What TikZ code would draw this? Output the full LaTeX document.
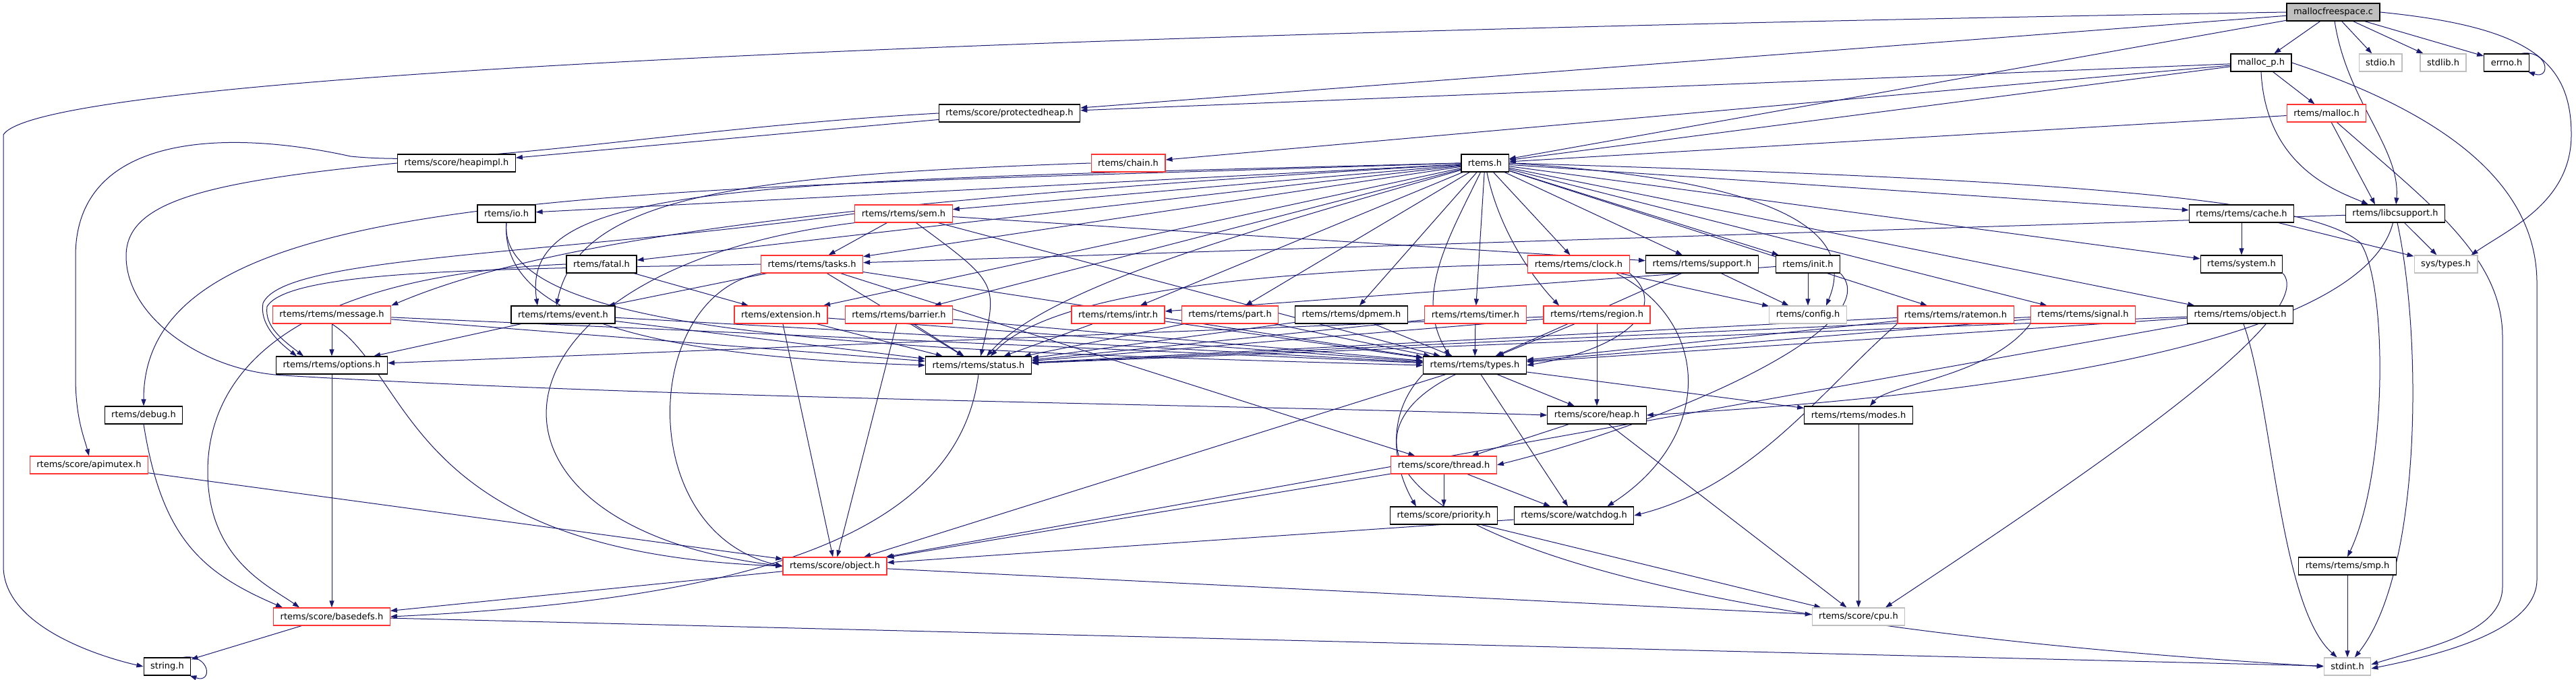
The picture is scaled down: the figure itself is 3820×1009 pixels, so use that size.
\documentclass[tikz,border=0pt]{standalone}
\usepackage{fontspec}
\setmainfont{DejaVu Sans}
\usetikzlibrary{arrows.meta}
\definecolor{edgeblue}{RGB}{25,25,112}
\definecolor{cutred}{RGB}{255,50,50}
\definecolor{extgrey}{RGB}{191,191,191}
\pgfdeclarelayer{edges}
\pgfsetlayers{edges,main}
\begin{document}
\begin{tikzpicture}[x=1pt, y=-1pt, font=\fontsize{13}{15}\selectfont,
    file/.style = {draw=black, fill=white, line width=1.2pt, minimum height=26pt, inner xsep=10pt, inner ysep=2pt},
    cutfile/.style = {file, draw=cutred},
    extfile/.style = {file, draw=extgrey},
    srcfile/.style = {file, fill=extgrey},
    dep/.style = {-{Triangle[length=10pt,width=7pt]}, draw=edgeblue, line width=1pt}]
    \useasboundingbox (0,0) rectangle (3820,1009);
    % files
    \node[srcfile] (src) at (3460,18) {mallocfreespace.c};
    \node[file] (mallocp) at (3353,93) {malloc\_p.h};
    \node[extfile] (stdio) at (3530,93) {stdio.h};
    \node[extfile] (stdlib) at (3623,93) {stdlib.h};
    \node[file] (errno) at (3717,93) {errno.h};
    \node[file] (pheap) at (1497,168) {rtems/score/protectedheap.h};
    \node[cutfile] (mallocr) at (3450,168) {rtems/malloc.h};
    \node[file] (heapimpl) at (677,242) {rtems/score/heapimpl.h};
    \node[cutfile] (chain) at (1673,242) {rtems/chain.h};
    \node[file] (rtemsh) at (2202,242) {rtems.h};
    \node[file] (io) at (751,317) {rtems/io.h};
    \node[cutfile] (sem) at (1340,317) {rtems/rtems/sem.h};
    \node[file] (cache) at (3324,317) {rtems/rtems/cache.h};
    \node[file] (libc) at (3552,317) {rtems/libcsupport.h};
    \node[file] (fatal) at (892,392) {rtems/fatal.h};
    \node[cutfile] (tasks) at (1204,392) {rtems/rtems/tasks.h};
    \node[cutfile] (clock) at (2341,392) {rtems/rtems/clock.h};
    \node[file] (support) at (2524,392) {rtems/rtems/support.h};
    \node[file] (init) at (2681,392) {rtems/init.h};
    \node[file] (system) at (3324,392) {rtems/system.h};
    \node[extfile] (systypes) at (3627,392) {sys/types.h};
    \node[cutfile] (message) at (492,467) {rtems/rtems/message.h};
    \node[file] (event) at (835,467) {rtems/rtems/event.h};
    \node[cutfile] (extension) at (1158,467) {rtems/extension.h};
    \node[cutfile] (barrier) at (1333,467) {rtems/rtems/barrier.h};
    \node[cutfile] (intr) at (1658,467) {rtems/rtems/intr.h};
    \node[cutfile] (part) at (1824,467) {rtems/rtems/part.h};
    \node[file] (dpmem) at (2004,467) {rtems/rtems/dpmem.h};
    \node[cutfile] (timer) at (2188,467) {rtems/rtems/timer.h};
    \node[cutfile] (region) at (2368,467) {rtems/rtems/region.h};
    \node[extfile] (config) at (2681,467) {rtems/config.h};
    \node[cutfile] (ratemon) at (2900,467) {rtems/rtems/ratemon.h};
    \node[cutfile] (signal) at (3089,467) {rtems/rtems/signal.h};
    \node[file] (robject) at (3322,467) {rtems/rtems/object.h};
    \node[file] (options) at (492,542) {rtems/rtems/options.h};
    \node[file] (status) at (1451,542) {rtems/rtems/status.h};
    \node[file] (types) at (2187,542) {rtems/rtems/types.h};
    \node[file] (debug) at (213,616) {rtems/debug.h};
    \node[file] (heap) at (2368,616) {rtems/score/heap.h};
    \node[file] (modes) at (2756,616) {rtems/rtems/modes.h};
    \node[cutfile] (apimutex) at (132,690) {rtems/score/apimutex.h};
    \node[cutfile] (thread) at (2141,690) {rtems/score/thread.h};
    \node[file] (priority) at (2141,765) {rtems/score/priority.h};
    \node[file] (watchdog) at (2334,765) {rtems/score/watchdog.h};
    \node[file] (smp) at (3481,840) {rtems/rtems/smp.h};
    \node[cutfile] (sobject) at (1238,840) {rtems/score/object.h};
    \node[cutfile] (basedefs) at (492,915) {rtems/score/basedefs.h};
    \node[extfile] (cpu) at (2756,915) {rtems/score/cpu.h};
    \node[file] (string) at (248,989) {string.h};
    \node[extfile] (stdint) at (3481,989) {stdint.h};
    \begin{pgfonlayer}{edges}
    % mallocfreespace.c
    \draw[dep] (src) -- (mallocp);
    \draw[dep] (src) -- (stdio);
    \draw[dep] (src) -- (stdlib);
    \draw[dep] (src) -- (errno);
    \draw[dep] (src) -- (rtemsh);
    \draw[dep] (src) -- (pheap);
    \draw[dep] (src) .. controls (3480,150) and (3560,220) .. (libc);
    \draw[dep] (src.west) .. controls (1500,50) and (60,110) .. (5,200) -- (5,840) .. controls (5,930) and (150,975) .. (string.west);
    \draw[dep] (src.east) .. controls (3750,40) and (3813,90) .. (3813,200) .. controls (3813,300) and (3720,340) .. ([xshift=-10]systypes.north east);
    \draw[dep] ([xshift=-12]errno.north east) .. controls +(40,-6) and +(35,12) .. ([xshift=-2]errno.south east);
    % malloc_p.h
    \draw[dep] (mallocp) -- (pheap);
    \draw[dep] (mallocp) -- (rtemsh);
    \draw[dep] (mallocp) -- (chain);
    \draw[dep] (mallocp) -- (mallocr);
    \draw[dep] (mallocp.south) .. controls (3360,250) and (3470,285) .. ([xshift=-40]libc.north);
    \draw[dep] (mallocp.east) .. controls (3600,160) and (3762,260) .. (3762,420) -- (3762,860) .. controls (3762,940) and (3600,975) .. ([yshift=-3]stdint.east);
    % rtems/malloc.h
    \draw[dep] (mallocr) -- (rtemsh);
    \draw[dep] (mallocr) -- ([xshift=-30]libc.north);
    \draw[dep] (mallocr) .. controls (3600,300) and (3711,380) .. (3711,500) -- (3711,870) .. controls (3711,940) and (3600,960) .. ([yshift=3]stdint.east);
    % score headers at the top
    \draw[dep] (pheap) -- (heapimpl);
    \draw[dep] (pheap.west) .. controls (1000,190) and (700,250) .. (520,232) .. controls (330,190) and (112,200) .. (112,380) -- (112,560) .. controls (112,620) and (125,650) .. (apimutex.north);
    \draw[dep] (heapimpl.west) .. controls (300,270) and (187,300) .. (187,380) .. controls (187,470) and (300,550) .. (420,557) .. controls (1000,592) and (1800,600) .. (heap.west);
    \draw[dep] (chain.west) .. controls (1100,260) and (860,290) .. ([xshift=-10]event.north);
    % rtems.h
    \draw[dep] (rtemsh) -- (io);
    \draw[dep] (rtemsh) -- (sem);
    \draw[dep] (rtemsh) -- (tasks);
    \draw[dep] (rtemsh) -- (fatal);
    \draw[dep] (rtemsh.west) .. controls (1100,270) and (770,270) .. ([xshift=-38]event.north);
    \draw[dep] (rtemsh) .. controls (1200,300) and (800,360) .. (message.north east);
    \draw[dep] (rtemsh) -- (extension);
    \draw[dep] (rtemsh) -- (barrier);
    \draw[dep] (rtemsh) -- (intr);
    \draw[dep] (rtemsh) -- (part);
    \draw[dep] (rtemsh) -- (dpmem);
    \draw[dep] (rtemsh) -- (timer);
    \draw[dep] (rtemsh) .. controls (2225,350) and (2280,420) .. ([xshift=-56]region.north);
    \draw[dep] (rtemsh) -- (clock);
    \draw[dep] (rtemsh) -- (support);
    \draw[dep] (rtemsh) -- (init);
    \draw[dep] (rtemsh.east) .. controls (2600,265) and (2760,330) .. ([xshift=27]config.north);
    \draw[dep] (rtemsh) -- (ratemon);
    \draw[dep] (rtemsh) -- (signal);
    \draw[dep] (rtemsh) -- (robject);
    \draw[dep] (rtemsh) -- (cache);
    \draw[dep] (rtemsh) -- (system);
    \draw[dep] (rtemsh) .. controls (1900,330) and (1560,420) .. (status);
    \draw[dep] (rtemsh) .. controls (2150,350) and (2095,440) .. ([xshift=-37]types.north);
    \draw[dep] (rtemsh.west) .. controls (900,285) and (213,270) .. (debug.north);
    \draw[dep] (rtemsh.east) .. controls (3000,265) and (3420,290) .. (3500,360) .. controls (3541,420) and (3541,700) .. (smp.north);
    % sem.h
    \draw[dep] (sem) -- (tasks);
    \draw[dep] (sem) -- (support);
    \draw[dep] (sem.west) .. controls (800,380) and (420,380) .. (390,450) .. controls (385,480) and (410,505) .. ([xshift=-52]options.north);
    \draw[dep] (sem) .. controls (1480,420) .. (status);
    \draw[dep] (sem) -- (types);
    \draw[dep] (sem.south west) .. controls (700,400) and (660,780) .. (sobject.west);
    % cache.h and libcsupport.h
    \draw[dep] (cache) -- (system);
    \draw[dep] (cache) -- (systypes);
    \draw[dep] (libc) -- (tasks);
    \draw[dep] (libc) .. controls (3500,520) and (2900,590) .. (heap.east);
    \draw[dep] (libc) -- (systypes);
    \draw[dep] (libc) .. controls (3592,500) and (3592,850) .. (stdint);
    % fatal.h and tasks.h
    \draw[dep] (fatal) -- (extension);
    \draw[dep] (fatal.west) .. controls (420,410) and (308,560) .. (308,700) .. controls (308,830) and (400,870) .. ([xshift=-48]basedefs.north);
    \draw[dep] (tasks) -- (event);
    \draw[dep] (tasks.west) .. controls (800,400) and (430,395) .. (396,455) .. controls (392,485) and (420,505) .. ([xshift=-42]options.north);
    \draw[dep] (tasks) -- (status);
    \draw[dep] (tasks) -- (types);
    \draw[dep] (tasks) -- (thread);
    \draw[dep] (tasks.south west) .. controls (950,440) and (940,790) .. (sobject.west);
    % clock.h, support.h, init.h, system.h
    \draw[dep] (clock.west) .. controls (1900,400) and (1560,430) .. ([xshift=18]status.north);
    \draw[dep] (clock.south east) .. controls (2480,460) and (2400,520) .. (types.east);
    \draw[dep] (clock) -- (config);
    \draw[dep] ([xshift=-20]clock.south east) .. controls (2540,480) and (2540,650) .. ([xshift=-40]watchdog.north east);
    \draw[dep] (support) -- (config);
    \draw[dep] (support) -- (types);
    \draw[dep] (init) -- (config);
    \draw[dep] (init) -- (intr);
    \draw[dep] (init.south east) .. controls (2800,480) and (2500,620) .. (thread.east);
    \draw[dep] (system.south east) .. controls (3440,470) and (3100,700) .. ([xshift=40]cpu.north);
    % rtems/rtems managers
    \draw[dep] (io.south) .. controls (740,480) and (1000,530) .. (status.west);
    \draw[dep] (io.south) .. controls (735,500) and (1300,520) .. (types.west);
    \draw[dep] (message) -- (options);
    \draw[dep] (message) -- (status);
    \draw[dep] (message) -- (types);
    \draw[dep] (message.south) .. controls (615,560) and (600,820) .. (sobject.west);
    \draw[dep] (event) -- (options);
    \draw[dep] (event) -- (status);
    \draw[dep] (event) -- (types);
    \draw[dep] (extension) -- (status);
    \draw[dep] (extension) -- (types);
    \draw[dep] (extension) -- (sobject);
    \draw[dep] (barrier) -- (status);
    \draw[dep] (barrier) -- (types);
    \draw[dep] (barrier) -- (sobject);
    \draw[dep] (intr) -- (status);
    \draw[dep] (intr) -- (types);
    \draw[dep] (part) -- (status);
    \draw[dep] (part) -- (types);
    \draw[dep] (dpmem) -- (status);
    \draw[dep] (dpmem) -- (types);
    \draw[dep] (timer) -- (status);
    \draw[dep] (timer) -- (types);
    \draw[dep] (region) -- (status);
    \draw[dep] (region) -- (types);
    \draw[dep] (region) -- (heap);
    \draw[dep] (region) -- (options);
    \draw[dep] (ratemon) -- (status);
    \draw[dep] (ratemon) -- (types);
    \draw[dep] (ratemon.south west) .. controls (2700,580) and (2600,720) .. (watchdog.east);
    \draw[dep] (signal) -- (status);
    \draw[dep] (signal) -- (types);
    \draw[dep] (signal.south west) .. controls (2950,560) and (2800,570) .. ([xshift=17]modes.north);
    \draw[dep] (robject) -- (status);
    \draw[dep] (robject) -- (types);
    \draw[dep] (robject) -- (sobject);
    \draw[dep] (robject) .. controls (3370,600) and (3380,900) .. (stdint);
    % lower levels
    \draw[dep] (options) -- (basedefs);
    \draw[dep] (status.south) .. controls (1420,800) and (1100,890) .. (basedefs.east);
    \draw[dep] (types) -- (heap);
    \draw[dep] (types) -- (modes);
    \draw[dep] (types.south west) .. controls (2050,620) and (2070,700) .. ([xshift=-41]priority.north);
    \draw[dep] (types) -- (watchdog);
    \draw[dep] (types) -- (sobject);
    \draw[dep] (types) .. controls (1960,650) and (1990,900) .. (stdint.west);
    \draw[dep] (debug.south) .. controls (240,800) and (300,850) .. ([xshift=-73]basedefs.north);
    \draw[dep] (heap) -- (thread);
    \draw[dep] (heap) -- (cpu);
    \draw[dep] (modes) -- (cpu);
    \draw[dep] (apimutex) -- (sobject);
    \draw[dep] (thread) -- (priority);
    \draw[dep] (thread) -- (watchdog);
    \draw[dep] (thread) -- (sobject);
    \draw[dep] (priority) -- (cpu);
    \draw[dep] (watchdog) -- (sobject);
    \draw[dep] (smp) -- (stdint);
    \draw[dep] (sobject) -- (basedefs);
    \draw[dep] (sobject) -- (cpu);
    \draw[dep] (basedefs) -- (string);
    \draw[dep] (basedefs) -- (stdint);
    \draw[dep] ([xshift=-12]string.north east) .. controls +(40,-6) and +(35,12) .. ([xshift=-2]string.south east);
    \end{pgfonlayer}
\end{tikzpicture}
\end{document}
